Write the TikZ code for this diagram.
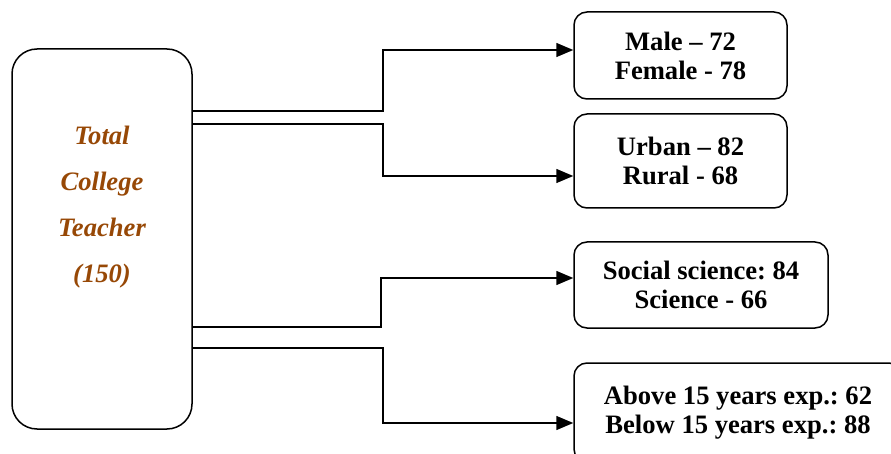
\documentclass[tikz,border=0pt]{standalone}
\usepackage{fontspec}
\setmainfont{Liberation Serif}
\usetikzlibrary{arrows.meta}
\definecolor{brownish}{RGB}{151,72,6}
\frenchspacing
\tikzset{
  rbox/.style={draw, line width=1.5pt, rounded corners=13pt, align=center, inner sep=0pt,
    font=\fontsize{26.6}{29}\selectfont\bfseries\frenchspacing},
  conn/.style={line width=1.5pt, -{Triangle[length=17pt,width=14pt]}},
}
\begin{document}
\begin{tikzpicture}[x=1pt,y=-1pt]
\useasboundingbox (0,0) rectangle (891,454);
\clip (0,0) rectangle (891,454);
\node[draw, line width=1.5pt, rounded corners=25pt, minimum width=180pt, minimum height=380pt, inner sep=0pt] (tot) at (102,239) {};
\node[align=center, text=brownish, font=\fontsize{26.6}{46}\selectfont\bfseries\itshape] (totlbl) at (102,207) {Total\\College\\Teacher\\(150)};
\node[rbox, minimum width=213pt, minimum height=87pt] (b1) at (680.5,55.5) {Male -- 72\\Female - 78};
\node[rbox, minimum width=213pt, minimum height=94pt] (b2) at (680.5,161) {Urban -- 82\\Rural - 68};
\node[rbox, minimum width=254pt, minimum height=86pt] (b3) at (701,285) {Social science: 84\\Science - 66};
\node[rbox, minimum width=328pt, minimum height=99pt] (b4) at (738,412.5) {Above 15 years exp.: 62\\Below 15 years exp.: 88};
\draw[conn] (tot.east |- 0,111) -- (383,111) |- (b1.west |- 0,50);
\draw[conn] (tot.east |- 0,124) -- (383,124) |- (b2.west |- 0,176);
\draw[conn] (tot.east |- 0,327) -- (381,327) |- (b3.west |- 0,278);
\draw[conn] (tot.east |- 0,348) -- (383,348) |- (b4.west |- 0,423);
\end{tikzpicture}
\end{document}
